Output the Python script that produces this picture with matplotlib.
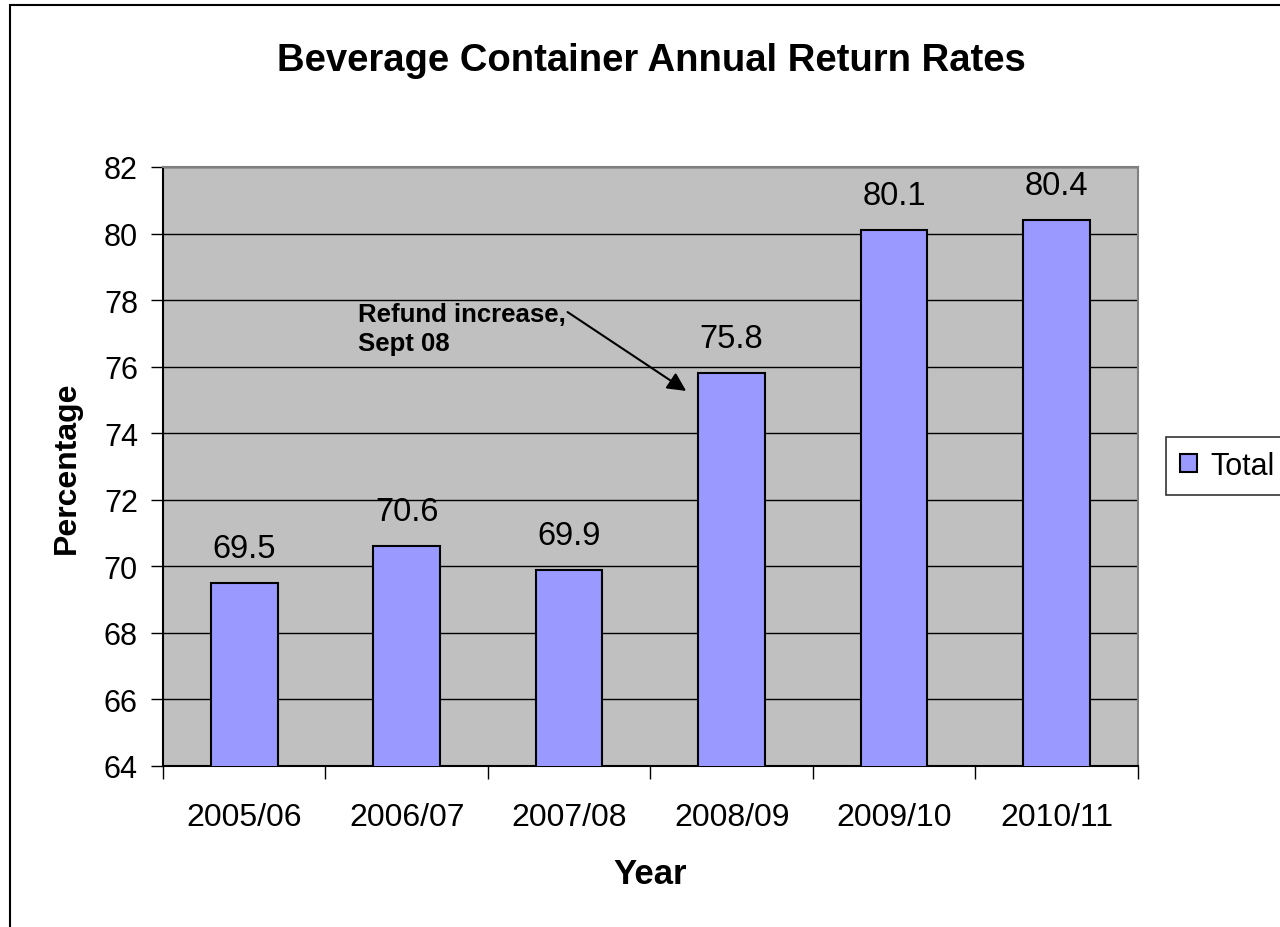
import matplotlib
matplotlib.use("Agg")
import matplotlib.pyplot as plt
from matplotlib.patches import Rectangle
import numpy as np

years = ["2005/06", "2006/07", "2007/08", "2008/09", "2009/10", "2010/11"]
rates = [69.5, 70.6, 69.9, 75.8, 80.1, 80.4]

plt.rcParams['font.family'] = ['Liberation Sans', 'DejaVu Sans']

fig = plt.figure(figsize=(12.8, 9.28), dpi=100)
ax = fig.add_axes([0.1273, 0.1735, 0.889 - 0.1273, 0.819 - 0.1735])
ax.set_facecolor('#C0C0C0')

x = np.arange(len(years))
bars = ax.bar(x, rates, width=0.41, color='#9999FF', edgecolor='black',
              linewidth=1.5, label='Total', zorder=3)

# value labels above bars
for xi, v in zip(x, rates):
    ax.text(xi, v + 0.78, f"{v}", ha='center', va='baseline', fontsize=23.5)

ax.set_xlim(-0.5, len(years) - 0.5)
ax.set_ylim(64, 82)
ax.set_yticks(np.arange(64, 83, 2))
ax.yaxis.grid(True, color='black', linewidth=1)
ax.set_axisbelow(True)
ax.set_xticks(x)
ax.set_xticklabels(years)
ax.set_xticks(np.arange(-0.5, len(years)), minor=True)
ax.tick_params(axis='x', which='major', length=0, pad=26, labelsize=23)
ax.tick_params(axis='x', which='minor', length=9, width=1, color='black')
ax.tick_params(axis='y', length=9, width=1, labelsize=22, pad=9)

ax.spines['left'].set_color('black')
ax.spines['bottom'].set_color('black')
ax.spines['top'].set_color('#808080')
ax.spines['right'].set_color('#808080')
for s in ax.spines.values():
    s.set_linewidth(1.5)

ax.set_xlabel('Year', fontsize=25, fontweight='bold', labelpad=18)
ax.set_ylabel('Percentage', fontsize=23, fontweight='bold', labelpad=16)

fig.text(0.509, 0.934, 'Beverage Container Annual Return Rates',
         ha='center', va='center', fontsize=27.5, fontweight='bold')

# annotation
ax.text(0.70, 77.95, 'Refund increase,\nSept 08', fontsize=18.5,
        fontweight='bold', ha='left', va='top', linespacing=1.3)
ax.annotate('', xy=(2.72, 75.27), xytext=(1.99, 77.64),
            arrowprops=dict(arrowstyle='-|>', color='black', lw=1.5,
                            mutation_scale=28, shrinkA=0, shrinkB=0))

leg = fig.legend(loc='upper left', bbox_to_anchor=(1166 / 1280, 1 - 438 / 928),
                 fontsize=22, frameon=True, fancybox=False, edgecolor='black',
                 handlelength=0.55, handleheight=0.55, handletextpad=0.45,
                 borderpad=0.45, borderaxespad=0)
leg.get_frame().set_linewidth(1.2)

fig.patches.append(Rectangle((10 / 1280, -0.1), 1.2, (928 - 6) / 928 + 0.1,
                             transform=fig.transFigure, fill=False,
                             edgecolor='black', linewidth=1.5))

fig.savefig('out.png', dpi=100)
